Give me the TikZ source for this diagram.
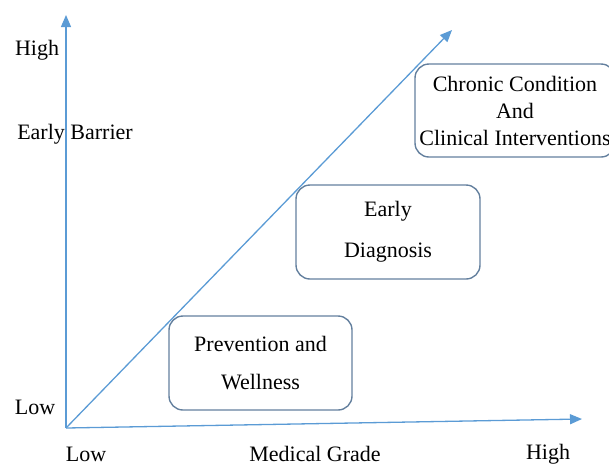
\documentclass[tikz,border=0pt]{standalone}
\usepackage{fontspec}
\setmainfont{Liberation Serif}
\usepackage{tikz}
\usetikzlibrary{arrows.meta, positioning}
\definecolor{axisblue}{RGB}{91,155,213}
\definecolor{boxline}{RGB}{100,128,158}

\begin{document}
\begin{tikzpicture}[
  x=1pt, y=-1pt,
  axis/.style={draw=axisblue, line width=1.3pt, -{Triangle[length=12pt,width=10pt]}},
  stage/.style={draw=boxline, line width=1.4pt, rounded corners=14pt,
                minimum width=183pt, minimum height=94pt, align=center, inner sep=0pt},
  lbl/.style={font=\fontsize{22}{26}\selectfont, inner sep=0pt},
]
  \useasboundingbox (0,0) rectangle (609,464);

  \coordinate (o) at (66,428);
  \coordinate (ytip) at (66,15);
  \coordinate (xtip) at (582,419);
  \coordinate (dtip) at (452,30);

  \draw[axis] (o) -- (ytip);
  \draw[axis] (o) -- (xtip);
  \draw[axis] (o) -- (dtip);

  \node[stage, lbl, minimum width=183pt, minimum height=94pt] (prev) at (260.5,363)
    {Prevention and\\[12pt]Wellness};
  \node[stage, lbl, minimum width=184pt, minimum height=94pt] (diag) at (388,232)
    {Early\\[15pt]Diagnosis};
  \node[stage, lbl, minimum width=200pt, minimum height=93pt] (chron) at (515,110.5)
    {Chronic Condition\\[1pt]And\\[1pt]Clinical Interventions};

  \node[lbl] (yhigh) at (37,50) {High};
  \node[lbl] (ybar) at (75,134) {Early Barrier};
  \node[lbl] (ylow) at (35,407) {Low};
  \node[lbl] (xlow) at (86,454) {Low};
  \node[lbl] (xgrade) at (315,454) {Medical Grade};
  \node[lbl] (xhigh) at (548,454) {High};
\end{tikzpicture}
\end{document}
